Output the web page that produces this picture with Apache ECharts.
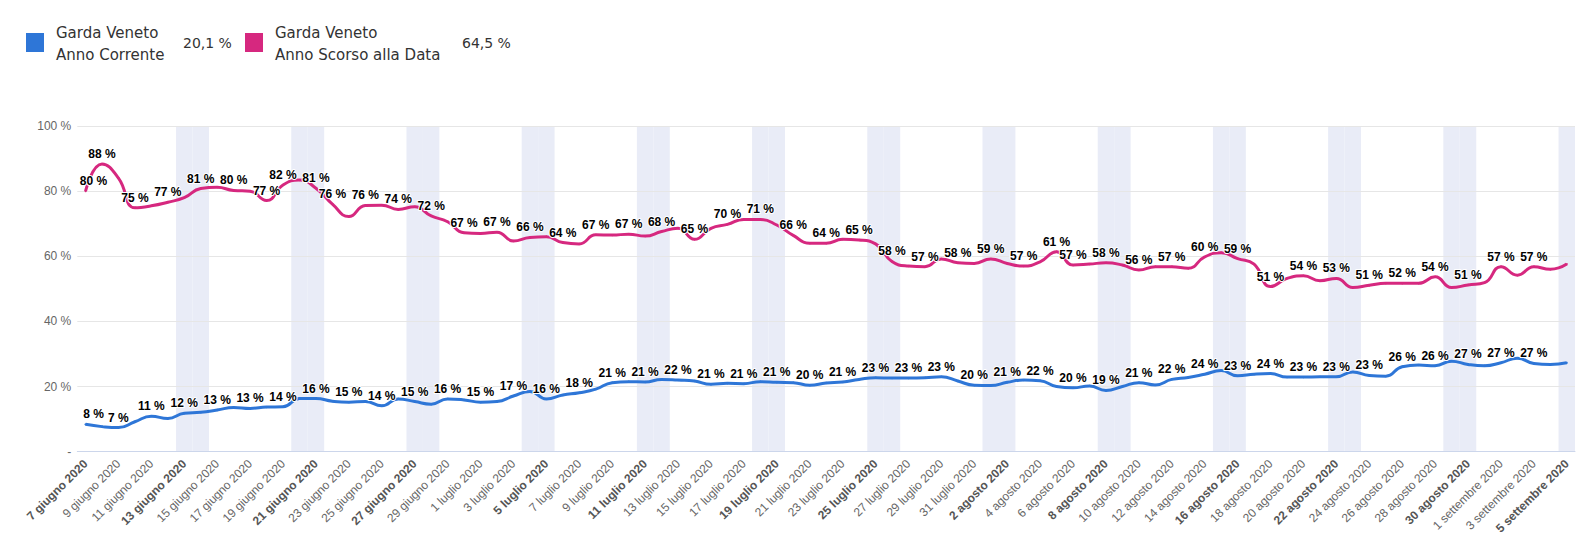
<!DOCTYPE html>
<html>
<head>
<meta charset="utf-8">
<script src="https://cdn.jsdelivr.net/npm/echarts@6/dist/echarts.min.js"></script>
<style>
html,body{margin:0;padding:0;background:#fff;}
#chart{width:1591px;height:558px;}
</style>
</head>
<body>
<div id="chart"></div>
<script>
const categories = [
"7 giugno 2020","8 giugno 2020","9 giugno 2020","10 giugno 2020","11 giugno 2020","12 giugno 2020","13 giugno 2020","14 giugno 2020","15 giugno 2020","16 giugno 2020","17 giugno 2020","18 giugno 2020","19 giugno 2020","20 giugno 2020","21 giugno 2020","22 giugno 2020","23 giugno 2020","24 giugno 2020","25 giugno 2020","26 giugno 2020","27 giugno 2020","28 giugno 2020","29 giugno 2020","30 giugno 2020",
"1 luglio 2020","2 luglio 2020","3 luglio 2020","4 luglio 2020","5 luglio 2020","6 luglio 2020","7 luglio 2020","8 luglio 2020","9 luglio 2020","10 luglio 2020","11 luglio 2020","12 luglio 2020","13 luglio 2020","14 luglio 2020","15 luglio 2020","16 luglio 2020","17 luglio 2020","18 luglio 2020","19 luglio 2020","20 luglio 2020","21 luglio 2020","22 luglio 2020","23 luglio 2020","24 luglio 2020","25 luglio 2020","26 luglio 2020","27 luglio 2020","28 luglio 2020","29 luglio 2020","30 luglio 2020","31 luglio 2020",
"1 agosto 2020","2 agosto 2020","3 agosto 2020","4 agosto 2020","5 agosto 2020","6 agosto 2020","7 agosto 2020","8 agosto 2020","9 agosto 2020","10 agosto 2020","11 agosto 2020","12 agosto 2020","13 agosto 2020","14 agosto 2020","15 agosto 2020","16 agosto 2020","17 agosto 2020","18 agosto 2020","19 agosto 2020","20 agosto 2020","21 agosto 2020","22 agosto 2020","23 agosto 2020","24 agosto 2020","25 agosto 2020","26 agosto 2020","27 agosto 2020","28 agosto 2020","29 agosto 2020","30 agosto 2020","31 agosto 2020",
"1 settembre 2020","2 settembre 2020","3 settembre 2020","4 settembre 2020","5 settembre 2020"
];

const annoCorrente = [
8.4,7.7,7.4,9.2,10.9,10.2,11.8,12.1,12.8,13.6,13.3,13.7,13.8,16.3,16.3,15.5,15.2,15.4,14.1,16.2,15.4,14.6,16.2,15.9,
15.2,15.4,17.1,18.5,16.2,17.4,18.1,19.2,21.2,21.5,21.4,22.2,22.0,21.7,20.7,21.0,20.9,21.5,21.3,21.2,20.4,21.1,21.4,22.2,22.7,22.6,22.6,22.7,23.0,21.7,20.4,
20.3,21.3,22.0,21.8,20.0,19.6,20.2,18.8,20.0,21.2,20.5,22.2,22.8,23.8,24.9,23.3,23.8,24.0,22.9,22.9,23.0,23.0,24.5,23.4,23.2,26.1,26.6,26.4,27.8,26.8,26.4,
27.3,28.7,27.1,26.8,27.3
];

const annoScorso = [
80.0,88.3,84.0,74.9,75.5,76.6,78.0,80.8,81.2,80.2,80.0,77.1,81.9,83.4,80.9,76.0,72.2,75.6,75.7,74.4,75.2,72.4,70.6,67.2,
67.0,67.4,64.7,65.8,66.0,64.2,63.8,66.6,66.5,66.8,66.2,67.6,68.6,65.2,68.6,69.8,71.3,71.3,69.6,66.4,64.0,64.0,65.2,65.0,63.8,58.4,57.0,56.8,59.2,58.0,57.8,
59.2,57.8,57.0,58.3,61.4,57.3,57.6,58.0,57.3,55.8,56.8,56.8,56.3,59.8,61.1,59.3,57.6,50.7,53.2,54.0,52.5,53.2,50.4,51.1,51.7,51.7,51.7,53.7,50.4,51.2,51.9,
56.8,54.2,56.8,56.0,57.6
];

// day indexes whose value label is visible in the picture
const labelDaysCorrente = [0,2,4,6,8,10,12,14,16,18,20,22,24,26,28,30,32,34,36,38,40,42,44,46,48,50,52,54,56,58,60,62,64,66,68,70,72,74,76,78,80,82,84,86,88];
const labelDaysScorso = [0,1,3,5,7,9,11,12,14,15,17,19,21,23,25,27,29,31,33,35,37,39,41,43,45,47,49,51,53,55,57,59,60,62,64,66,68,70,72,74,76,78,80,82,84,86,88];

const weekendDays = [
"7 giugno 2020","13 giugno 2020","14 giugno 2020","20 giugno 2020","21 giugno 2020","27 giugno 2020","28 giugno 2020",
"4 luglio 2020","5 luglio 2020","11 luglio 2020","12 luglio 2020","18 luglio 2020","19 luglio 2020","25 luglio 2020","26 luglio 2020",
"1 agosto 2020","2 agosto 2020","8 agosto 2020","9 agosto 2020","15 agosto 2020","16 agosto 2020","22 agosto 2020","23 agosto 2020","29 agosto 2020","30 agosto 2020",
"5 settembre 2020"
];
const bandDays = weekendDays.slice(1);

const seriesNames = ["Anno Corrente", "Anno Scorso alla Data"];
const legendTitle = "Garda Veneto";
const legendValues = ["20,1 %", "64,5 %"];
const colors = ["#2e76d7", "#d6287f"];

const chart = echarts.init(document.getElementById('chart'), null, {renderer: 'svg'});

const labelFont = 'Liberation Sans, Arial, sans-serif';
const legendFont = 'DejaVu Sans, sans-serif';

function dataLabel() {
  return {
    show: false,
    position: 'top',
    distance: 3,
    fontFamily: labelFont,
    fontSize: 12,
    fontWeight: 'bold',
    color: '#000',
    textBorderColor: '#fff',
    textBorderWidth: 2,
    formatter: p => Math.round(p.value) + ' %'
  };
}

function lineData(arr, shown) {
  return arr.map((v, i) => {
    if (!shown.includes(i)) return v;
    const lab = {show: true};
    if (i === 0) lab.offset = [8, 0];
    return {value: v, label: lab};
  });
}

const option = {
  animation: false,
  grid: {left: 77.3, right: 16, top: 126, bottom: 106.3, containLabel: false},
  xAxis: {
    type: 'category',
    data: categories,
    boundaryGap: true,
    axisLine: {lineStyle: {color: '#ccd6eb', width: 1}},
    axisTick: {show: false},
    axisLabel: {
      interval: 1,
      rotate: 45,
      margin: 10,
      fontFamily: labelFont,
      fontSize: 12,
      color: '#666',
      formatter: v => weekendDays.includes(v) ? '{b|' + v + '}' : v,
      rich: {b: {fontFamily: labelFont, fontSize: 12, fontWeight: 'bold', color: '#555'}}
    },
    splitLine: {show: false}
  },
  yAxis: {
    type: 'value',
    min: 0, max: 100, interval: 20,
    axisLine: {show: false},
    axisTick: {show: false},
    axisLabel: {
      fontFamily: labelFont, fontSize: 12, color: '#666', margin: 6,
      formatter: v => v === 0 ? '-' : v + ' %'
    },
    splitLine: {lineStyle: {color: '#e6e6e6', width: 1}}
  },
  series: [
    {
      name: 'bands',
      type: 'bar',
      silent: true,
      z: -1,
      barCategoryGap: '0%',
      barWidth: '100%',
      itemStyle: {color: '#e9ecf7'},
      data: categories.map(c => bandDays.includes(c) ? 100 : null)
    },
    {
      name: seriesNames[0],
      type: 'line',
      smooth: true,
      symbol: 'circle',
      symbolSize: 2,
      showAllSymbol: true,
      lineStyle: {color: colors[0], width: 3},
      itemStyle: {color: colors[0]},
      label: dataLabel(),
      data: lineData(annoCorrente, labelDaysCorrente)
    },
    {
      name: seriesNames[1],
      type: 'line',
      smooth: true,
      symbol: 'circle',
      symbolSize: 2,
      showAllSymbol: true,
      lineStyle: {color: colors[1], width: 3},
      itemStyle: {color: colors[1]},
      label: dataLabel(),
      data: lineData(annoScorso, labelDaysScorso)
    }
  ],
  graphic: [
    {type: 'rect', left: 26, top: 33, shape: {width: 18, height: 19}, style: {fill: colors[0]}},
    {type: 'text', left: 56, top: 21.5, style: {text: legendTitle + '\n' + seriesNames[0], font: '15px ' + legendFont, fill: '#333', lineHeight: 22}},
    {type: 'text', left: 183, top: 32.3, style: {text: legendValues[0], font: '14px ' + legendFont, fill: '#333', lineHeight: 22}},
    {type: 'rect', left: 245, top: 33, shape: {width: 18, height: 19}, style: {fill: colors[1]}},
    {type: 'text', left: 275, top: 21.5, style: {text: legendTitle + '\n' + seriesNames[1], font: '15px ' + legendFont, fill: '#333', lineHeight: 22}},
    {type: 'text', left: 462, top: 32.3, style: {text: legendValues[1], font: '14px ' + legendFont, fill: '#333', lineHeight: 22}}
  ]
};
chart.setOption(option);
</script>
</body>
</html>
